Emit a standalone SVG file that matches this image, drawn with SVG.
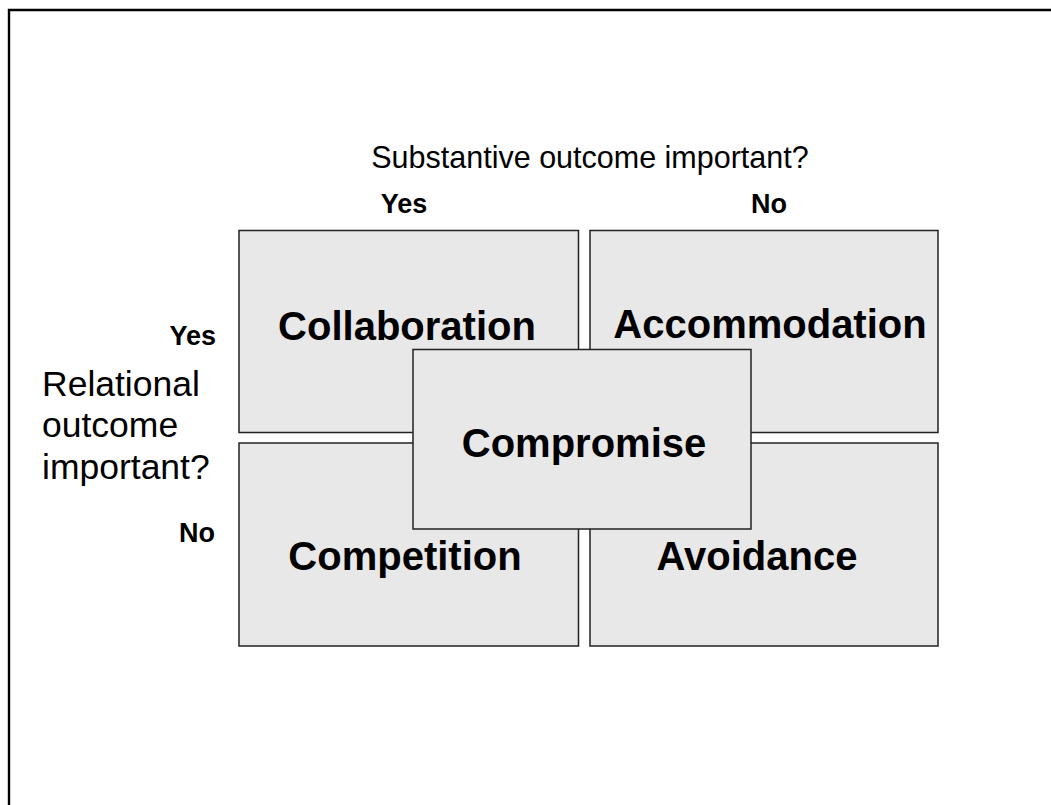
<svg xmlns="http://www.w3.org/2000/svg" width="1051" height="805" viewBox="0 0 1051 805">
  <style>
    .box { fill: #e8e8e8; stroke: #222; stroke-width: 1.5; }
    .big { font-family: "Liberation Sans", Arial, sans-serif; font-weight: bold; font-size: 40px; fill: #000; text-anchor: middle; }
    .tag { font-family: "Liberation Sans", Arial, sans-serif; font-weight: bold; font-size: 27px; fill: #000; }
    .axis { font-family: "Liberation Sans", Arial, sans-serif; font-size: 30.5px; fill: #000; }
  </style>
  <rect width="1051" height="805" fill="#fff"/>
  <!-- frame along the top and left edges -->
  <path d="M9 805 V10 H1051" fill="none" stroke="#000" stroke-width="2.4"/>

  <!-- axis titles -->
  <text class="axis" x="590" y="168" text-anchor="middle">Substantive outcome important?</text>
  <text class="tag" x="404" y="213" text-anchor="middle">Yes</text>
  <text class="tag" x="769" y="213" text-anchor="middle">No</text>
  <text class="tag" x="216" y="345" text-anchor="end">Yes</text>
  <text class="tag" x="215" y="542" text-anchor="end">No</text>
  <text class="axis" x="42" style="font-size:35.5px">
    <tspan x="42" y="396">Relational</tspan>
    <tspan x="42" y="437">outcome</tspan>
    <tspan x="42" y="479">important?</tspan>
  </text>

  <g id="collaboration">
    <rect class="box" x="239" y="230.5" width="339.5" height="202"/>
    <text class="big" x="407" y="340">Collaboration</text>
  </g>
  <g id="accommodation">
    <rect class="box" x="590" y="230.5" width="348" height="202"/>
    <text class="big" x="770" y="338">Accommodation</text>
  </g>
  <g id="competition">
    <rect class="box" x="239" y="443" width="339.5" height="203"/>
    <text class="big" x="405" y="570">Competition</text>
  </g>
  <g id="avoidance">
    <rect class="box" x="590" y="443" width="348" height="203"/>
    <text class="big" x="757" y="570">Avoidance</text>
  </g>
  <g id="compromise">
    <rect class="box" x="413" y="349.5" width="338" height="179.5"/>
    <text class="big" x="584" y="457">Compromise</text>
  </g>
  <g id="connectors"/>
</svg>
